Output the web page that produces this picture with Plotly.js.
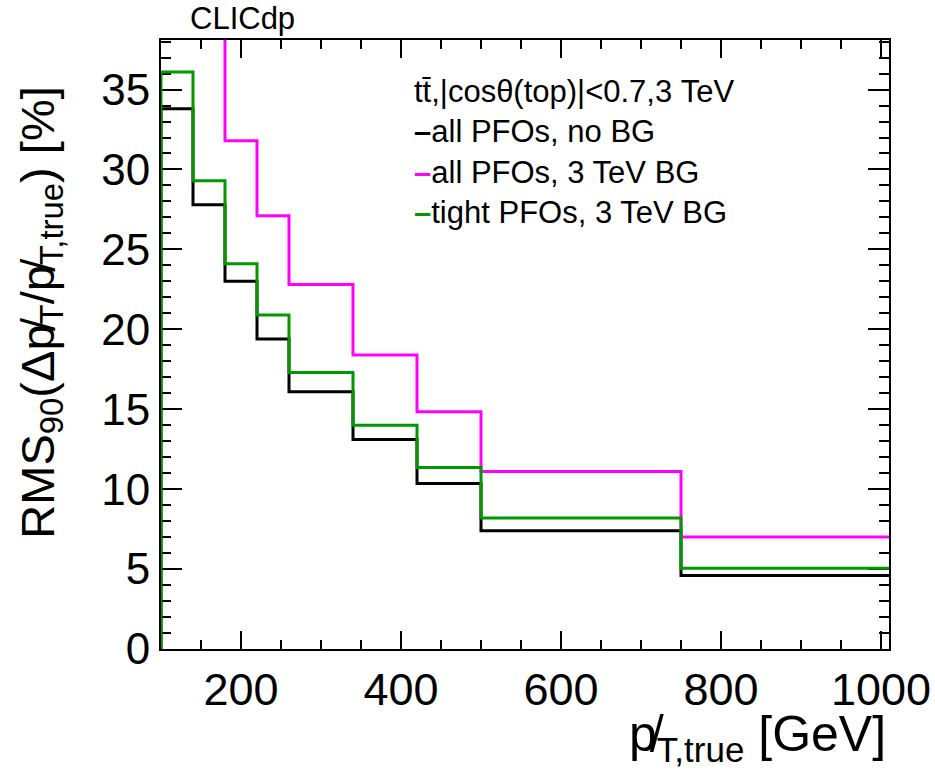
<!DOCTYPE html>
<html>
<head>
<meta charset="utf-8">
<script src="https://cdn.plot.ly/plotly-3.0.1.min.js"></script>
<style>html,body{margin:0;padding:0;background:#fff;}#chart{width:935px;height:777px;}</style>
</head>
<body>
<div id="chart"></div>
<script>
// bin edges in pT,true [GeV]
const binEdges = [100, 140, 180, 220, 260, 340, 420, 500, 750, 1010];
// RMS90 values [%] per bin (first magenta bins lie above the plotted range)
const allPFOsNoBG     = [33.8, 27.8, 23.0, 19.4, 16.1, 13.1, 10.35, 7.4, 4.6];
const allPFOs3TeVBG   = [45.0, 40.0, 31.8, 27.1, 22.8, 18.4, 14.85, 11.1, 7.0];
const tightPFOs3TeVBG = [36.1, 29.3, 24.1, 20.9, 17.3, 14.0, 11.35, 8.2, 5.05];
const seriesNames = ["all PFOs, no BG", "all PFOs, 3 TeV BG", "tight PFOs, 3 TeV BG"];
const seriesColors = ["#000000", "#ff00ff", "#009900"];
const legendHeader = "tt\u0304,|cos\u03b8(top)|<0.7,3 TeV";
const xTickVals = [200, 400, 600, 800, 1000];
const yTickVals = [0, 5, 10, 15, 20, 25, 30, 35];

function stepXY(edges, vals, fromZero) {
  const x = [], y = [];
  if (fromZero) { x.push(edges[0]); y.push(0); }
  for (let i = 0; i < vals.length; i++) { x.push(edges[i]); y.push(vals[i]); }
  x.push(edges[edges.length - 1]); y.push(vals[vals.length - 1]);
  return {x, y};
}

const allSeries = [allPFOsNoBG, allPFOs3TeVBG, tightPFOs3TeVBG];
const fromZero = [true, false, true];
const traces = allSeries.map((vals, i) => {
  const s = stepXY(binEdges, vals, fromZero[i]);
  return {x: s.x, y: s.y, type: 'scatter', mode: 'lines', name: seriesNames[i],
          line: {shape: 'hv', color: seriesColors[i], width: 3}, showlegend: false, cliponaxis: true};
});

const F = 'Liberation Sans, Arial, Helvetica, sans-serif';
const legendLines = [legendHeader].concat(seriesNames.map((n, i) =>
  '<b><span style="color:' + seriesColors[i] + '">\u2013</span></b>' + n));
const annotations = [
  {text: 'CLICdp', xref: 'paper', yref: 'paper', x: 0.037, y: 1.036, xanchor: 'left', yanchor: 'middle', showarrow: false, font: {family: F, size: 31, color: '#000'}},
  {text: legendLines.join('<br>'), align: 'left', xref: 'paper', yref: 'paper', x: 0.3448, y: 0.816, xanchor: 'left', yanchor: 'middle', showarrow: false, font: {family: F, size: 31, color: '#000'}},
  {text: 'RMS<sub>90</sub>(\u0394p\u0338<sub>T</sub>/p\u0338<sub>T,true</sub>) [%]', xref: 'paper', yref: 'paper', x: -0.166, y: 0.5525, xanchor: 'center', yanchor: 'middle', textangle: -90, showarrow: false, font: {family: F, size: 47, color: '#000'}},
  {text: 'p\u0338<sub>T,true</sub> [GeV]', xref: 'paper', yref: 'paper', x: 0.9986, y: -0.146, xanchor: 'right', yanchor: 'middle', showarrow: false, font: {family: F, size: 50, color: '#000'}}
];

const layout = {
  width: 935, height: 777,
  margin: {l: 161, r: 46, t: 40, b: 128},
  paper_bgcolor: '#fff', plot_bgcolor: '#fff',
  showlegend: false,
  xaxis: {range: [100, 1010], tickvals: xTickVals, ticktext: xTickVals.map(String), ticks: 'inside', ticklen: 18, tickwidth: 2, tickcolor: '#000',
          showline: true, linewidth: 2, linecolor: '#000', mirror: 'ticks', showgrid: false, zeroline: false, layer: 'below traces',
          tickfont: {family: F, size: 45, color: '#000'},
          minor: {dtick: 50, tick0: 0, ticks: 'inside', ticklen: 9, tickwidth: 2, tickcolor: '#000', showgrid: false}},
  yaxis: {range: [0, 38.1], tickvals: yTickVals, ticktext: yTickVals.map(String), ticks: 'inside', ticklen: 21, tickwidth: 2, tickcolor: '#000',
          showline: true, linewidth: 2, linecolor: '#000', mirror: 'ticks', showgrid: false, zeroline: false, layer: 'below traces',
          tickfont: {family: F, size: 44, color: '#000'},
          minor: {dtick: 1, tick0: 0, ticks: 'inside', ticklen: 10, tickwidth: 2, tickcolor: '#000', showgrid: false}},
  annotations: annotations
};
Plotly.newPlot('chart', traces, layout, {staticPlot: true, displayModeBar: false});
</script>
</body>
</html>
